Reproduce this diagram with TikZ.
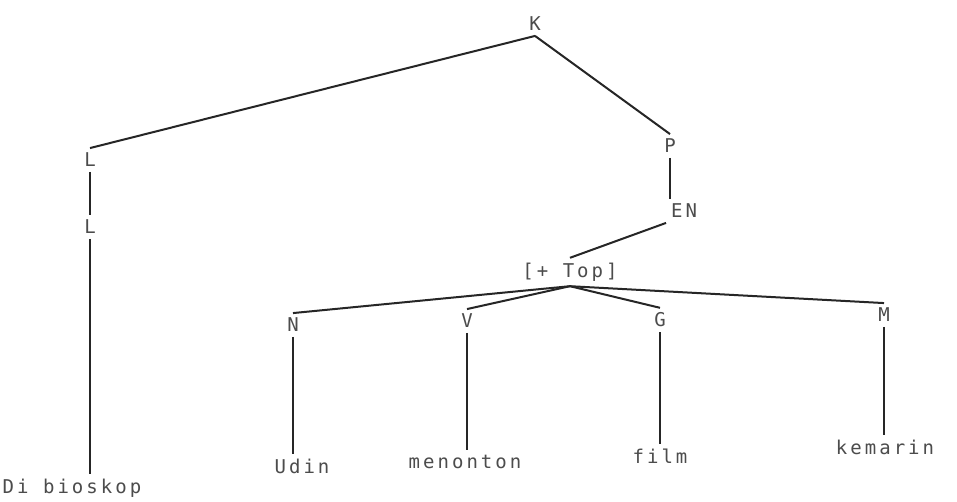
\documentclass[tikz,border=0pt]{standalone}
\usepackage{fontspec}
\newfontfamily\dotfont[LetterSpace=16]{DejaVu Sans Mono}
\begin{document}
\begin{tikzpicture}[x=1pt,y=-1pt,
  lab/.style={font=\dotfont\fontsize{19}{21}\selectfont, text=black!70, inner sep=1pt, outer sep=4pt},
  edge/.style={draw=black!85, line width=2pt}]
\useasboundingbox[fill=white] (0,0) rectangle (957,502);
\node[lab] (K) at (535,24) {K};
\node[lab] (L1) at (90,160) {L};
\node[lab] (L2) at (90,227) {L};
\node[lab] (P) at (670,146) {P};
\node[lab] (EN) at (684,211) {EN};
\node[lab] (Top) at (570,272) {[+ Top]};
\node[lab] (N) at (293,325) {N};
\node[lab] (V) at (467,321) {V};
\node[lab] (G) at (660,320) {G};
\node[lab] (M) at (884,315) {M};
\node[lab] (w1) at (72,488) {Di bioskop};
\node[lab] (w2) at (302,466) {Udin};
\node[lab] (w3) at (465,462) {menonton};
\node[lab] (w4) at (660,456) {film};
\node[lab] (w5) at (885,447) {kemarin};
\draw[edge] (K.south) -- (L1.north);
\draw[edge] (K.south) -- (P.north);
\draw[edge] (L1.south) -- (L2.north);
\draw[edge] (L2.south) -- (L2.south |- w1.north);
\draw[edge] (P.south) -- (P.south |- EN.north);
\draw[edge] (EN.south west) -- (Top.north);
\draw[edge] (Top.south) -- (N.north);
\draw[edge] (Top.south) -- (V.north);
\draw[edge] (Top.south) -- (G.north);
\draw[edge] (Top.south) -- (M.north);
\draw[edge] (N.south) -- (N.south |- w2.north);
\draw[edge] (V.south) -- (V.south |- w3.north);
\draw[edge] (G.south) -- (G.south |- w4.north);
\draw[edge] (M.south) -- (M.south |- w5.north);
\end{tikzpicture}
\end{document}
